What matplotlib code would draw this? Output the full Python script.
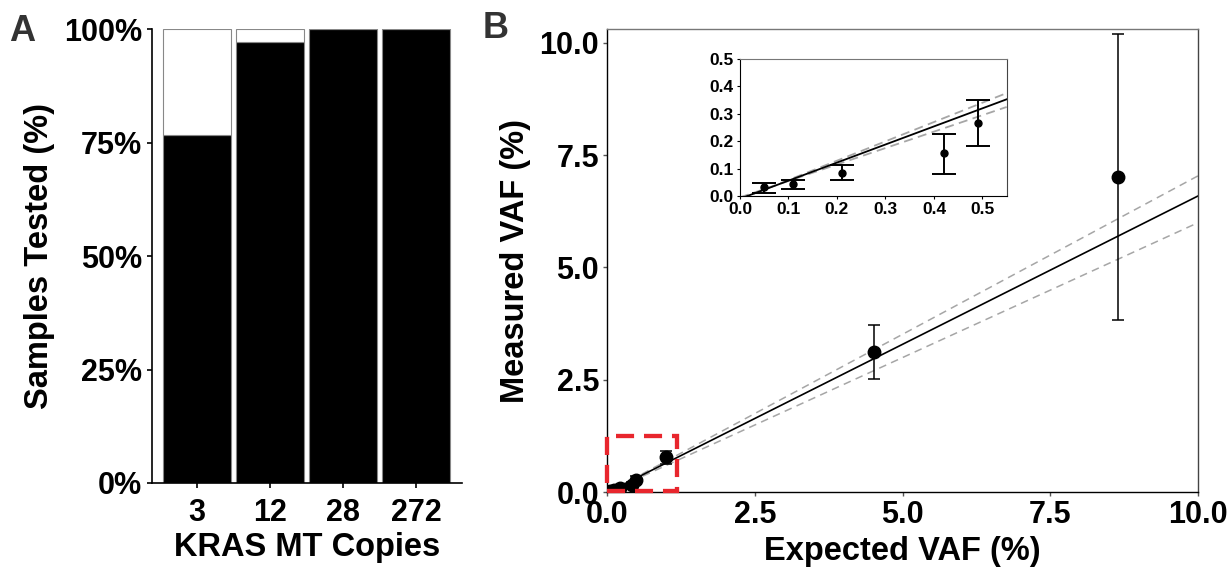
import matplotlib
matplotlib.use("Agg")
import matplotlib.pyplot as plt
from matplotlib.patches import Rectangle
import numpy as np

plt.rcParams.update({
    "font.family": ["Liberation Sans", "DejaVu Sans"],
    "font.weight": "bold",
    "axes.labelweight": "bold",
})

INK = "#000000"
GREY = "#a6a6a6"
RED = "#e8262d"

# Panel A data
copies = ["3", "12", "28", "272"]
detected_pct = [76.7, 97.3, 100.0, 100.0]

# Panel B data (main)
expected = [0.05, 0.11, 0.21, 0.42, 0.49, 0.99, 4.52, 8.64]
measured = [0.032, 0.043, 0.085, 0.156, 0.265, 0.77, 3.11, 7.02]
err_low = [0.012, 0.026, 0.057, 0.082, 0.181, 0.62, 2.51, 3.83]
err_high = [0.049, 0.060, 0.113, 0.225, 0.349, 0.92, 3.71, 10.2]

# regression fit and bounds: slope, intercept
fit_line = (0.66, -0.010)
upper_line = (0.705, -0.012)
lower_line = (0.600, -0.005)

# zoom box (data coords of panel B)
box_x = [0.0, 1.17]
box_y = [0.02, 1.25]

TICK_FS = 22
LABEL_FS = 23.5

fig = plt.figure(figsize=(12.29, 5.68), dpi=100)

# ---------- Panel A ----------
axA = fig.add_axes([0.1234, 0.1498, 0.2523, 0.7986])
pos = np.arange(len(copies))
missed = [100 - v for v in detected_pct]
axA.bar(pos, detected_pct, width=0.93, color=INK, edgecolor="#888888", linewidth=0.8)
axA.bar(pos, missed, bottom=detected_pct, width=0.93, color="white",
        edgecolor="#888888", linewidth=0.8)
axA.set_xlim(-0.62, 3.62)
axA.set_ylim(0, 100)
axA.set_yticks([0, 25, 50, 75, 100])
axA.set_yticklabels(["0%", "25%", "50%", "75%", "100%"])
axA.set_xticks(pos)
axA.set_xticklabels(copies)
for s in ("top", "right"):
    axA.spines[s].set_visible(False)
for s in ("left", "bottom"):
    axA.spines[s].set_linewidth(1.2)
axA.tick_params(labelsize=TICK_FS, length=3.6, width=1.2, pad=3.5)
axA.tick_params(axis="x", pad=7)
axA.set_xlabel("KRAS MT Copies", fontsize=LABEL_FS, labelpad=3)
axA.set_ylabel("Samples Tested (%)", fontsize=LABEL_FS, labelpad=6)

# ---------- Panel B ----------
axB = fig.add_axes([0.4943, 0.1338, 0.4805, 0.8146])
xs = np.array([0, 10])
axB.plot(xs, upper_line[0] * xs + upper_line[1], color=GREY, lw=1.1,
         linestyle=(0, (5, 3.5)))
axB.plot(xs, lower_line[0] * xs + lower_line[1], color=GREY, lw=1.1,
         linestyle=(0, (5, 3.5)))
axB.plot(xs, fit_line[0] * xs + fit_line[1], color=INK, lw=1.2)
yerr = [np.array(measured) - np.array(err_low), np.array(err_high) - np.array(measured)]
axB.errorbar(expected, measured, yerr=yerr, fmt="o", color=INK, ms=9,
             elinewidth=1.1, capsize=4.3, capthick=1.1)
axB.add_patch(Rectangle((box_x[0], box_y[0]), box_x[1] - box_x[0], box_y[1] - box_y[0],
                        fill=False, edgecolor=RED, lw=3.1, linestyle=(0, (4.2, 2.3)),
                        clip_on=False, zorder=5))
axB.set_xlim(0, 10)
axB.set_ylim(0, 10.3)
axB.set_xticks([0, 2.5, 5, 7.5, 10])
axB.set_xticklabels(["0.0", "2.5", "5.0", "7.5", "10.0"])
axB.set_yticks([0, 2.5, 5, 7.5, 10])
axB.set_yticklabels(["0.0", "2.5", "5.0", "7.5", "10.0"])
axB.spines["top"].set_color("#777777")
axB.spines["right"].set_color("#444444")
for s in axB.spines.values():
    s.set_linewidth(1.0)
axB.tick_params(labelsize=TICK_FS, length=3, width=1, color="#555555", pad=3)
axB.set_xlabel("Expected VAF (%)", fontsize=LABEL_FS, labelpad=4)
axB.set_ylabel("Measured VAF (%)", fontsize=LABEL_FS, labelpad=6)

# ---------- Inset ----------
axI = fig.add_axes([0.6021, 0.6549, 0.2170, 0.2412])
xi = np.array([0, 0.55])
axI.plot(xi, upper_line[0] * xi + upper_line[1], color=GREY, lw=1.3,
         linestyle=(0, (5, 3)))
axI.plot(xi, lower_line[0] * xi + lower_line[1], color=GREY, lw=1.3,
         linestyle=(0, (5, 3)))
axI.plot(xi, fit_line[0] * xi + fit_line[1], color=INK, lw=1.3)
axI.errorbar(expected[:5], measured[:5], yerr=[e[:5] for e in yerr], fmt="o",
             color=INK, ms=5, elinewidth=1.4, capsize=8.5, capthick=1.4)
axI.set_xlim(0, 0.55)
axI.set_ylim(0, 0.5)
axI.set_xticks([0, 0.1, 0.2, 0.3, 0.4, 0.5])
axI.set_xticklabels(["0.0", "0.1", "0.2", "0.3", "0.4", "0.5"])
axI.set_yticks([0, 0.1, 0.2, 0.3, 0.4, 0.5])
axI.set_yticklabels(["0.0", "0.1", "0.2", "0.3", "0.4", "0.5"])
axI.spines["top"].set_color("#777777")
axI.spines["right"].set_color("#444444")
axI.tick_params(labelsize=12.5, length=2.5, width=0.8, pad=2)

# panel letters
fig.text(0.007, 0.945, "A", fontsize=26, color="#333333", fontweight="bold", va="center")
fig.text(0.393, 0.950, "B", fontsize=26, color="#333333", fontweight="bold", va="center")

fig.savefig("out.png", dpi=100)
